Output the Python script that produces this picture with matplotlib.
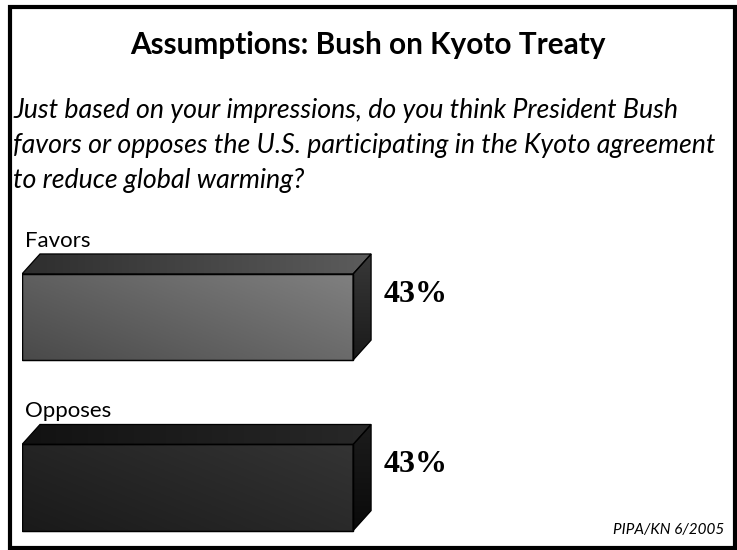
import numpy as np
import matplotlib
matplotlib.use("Agg")
import matplotlib.pyplot as plt
from matplotlib.patches import Polygon, Rectangle
from matplotlib.colors import LinearSegmentedColormap

categories = ["Favors", "Opposes"]
values = [43, 43]
value_labels = ["43%", "43%"]
title_text = "Assumptions: Bush on Kyoto Treaty"
question_lines = ["Just based on your impressions, do you think President Bush",
                  "favors or opposes the U.S. participating in the Kyoto agreement",
                  "to reduce global warming?"]
source_text = "PIPA/KN 6/2005"

# shading per bar: (dark, light) for the front, top and side faces
face_colors = [
    {"front": ("#4a4a4a", "#808080"), "top": ("#2e2e2e", "#5c5c5c"), "side": ("#1a1a1a", "#383838")},
    {"front": ("#1a1a1a", "#343434"), "top": ("#121212", "#282828"), "side": ("#0a0a0a", "#1c1c1c")},
]

W, H = 737, 550
fig = plt.figure(figsize=(W / 100, H / 100), dpi=100)
fig.patch.set_facecolor("white")

SANS = "Lato"

# outer frame
fig.patches.append(Rectangle((9.5 / W, 1 - 548 / H), 725 / W, 541 / H,
                             transform=fig.transFigure, fill=False,
                             edgecolor="black", linewidth=3.0))

fig.text(368 / W, 1 - 45 / H, title_text, ha="center", va="center",
         family=SANS, fontweight="bold", fontsize=21.4)

# question, one line every 35 px
for k, line in enumerate(question_lines):
    fig.text(13 / W, 1 - (118 + 35 * k) / H, line, ha="left", va="baseline",
             family=SANS, style="italic", fontsize=19.3)

fig.text(724 / W, 1 - 534 / H, source_text, ha="right", va="baseline",
         family=SANS, style="italic", fontsize=11)

# bar axes
ax_left, ax_w = 22, 385
ax_top, ax_h = 214.7, 324
ax = fig.add_axes([ax_left / W, 1 - (ax_top + ax_h) / H, ax_w / W, ax_h / H])
XMAX = 50
YLIM = (1.3, -0.6)
ax.set_xlim(0, XMAX)
ax.set_ylim(*YLIM)
ax.axis("off")

pos = np.arange(len(categories))
bar_h = 0.505
bars = ax.barh(pos, values, height=bar_h, left=0, color="none",
               edgecolor="black", linewidth=0.9, zorder=5)

# depth of the extruded faces, in data units
p0 = ax.transData.transform((0, 0))
p1 = ax.transData.transform((1, 1))
sx = p1[0] - p0[0]
sy = abs(p1[1] - p0[1])
dx = 18 / sx
dy = 20 / sy


def shade(poly_xy, dark, light, direction):
    xs = [p[0] for p in poly_xy]
    ys = [p[1] for p in poly_xy]
    x0, x1 = min(xs), max(xs)
    ylo, yhi = max(ys), min(ys)  # visual bottom (larger value), visual top
    n = 64
    gx, gy = np.meshgrid(np.linspace(0, 1, n), np.linspace(0, 1, n))
    if direction == "diag":
        z = 0.6 * gx + 0.4 * gy
    elif direction == "horiz":
        z = gx
    else:
        z = gy
    cmap = LinearSegmentedColormap.from_list("f", [dark, light])
    im = ax.imshow(z, cmap=cmap, extent=(x0, x1, ylo, yhi), origin="lower",
                   aspect="auto", interpolation="bilinear", zorder=2)
    patch = Polygon(poly_xy, closed=True, facecolor="none",
                    edgecolor="black", linewidth=0.9, zorder=5)
    ax.add_patch(patch)
    im.set_clip_path(patch)


for i, (bar, cat, lab) in enumerate(zip(bars, categories, value_labels)):
    v = bar.get_width()
    yt = bar.get_y()
    yb = bar.get_y() + bar.get_height()
    fc = face_colors[i]
    front = [(0, yt), (v, yt), (v, yb), (0, yb)]
    top = [(0, yt), (v, yt), (v + dx, yt - dy), (dx, yt - dy)]
    side = [(v, yt), (v + dx, yt - dy), (v + dx, yb - dy), (v, yb)]
    shade(front, *fc["front"], "diag")
    shade(top, *fc["top"], "horiz")
    shade(side, *fc["side"], "vert")

    ax.annotate(cat, (0, yt - dy), xytext=(3, 7), textcoords="offset pixels",
                ha="left", va="baseline", family=SANS, fontsize=16,
                annotation_clip=False)
    ax.annotate(lab, (v + dx, pos[i]), xytext=(13, 23), textcoords="offset pixels",
                ha="left", va="center", family="Liberation Serif",
                fontweight="bold", fontsize=23, annotation_clip=False)

ax.set_xlim(0, XMAX)
ax.set_ylim(*YLIM)

fig.savefig("out.png", dpi=100, facecolor="white")
